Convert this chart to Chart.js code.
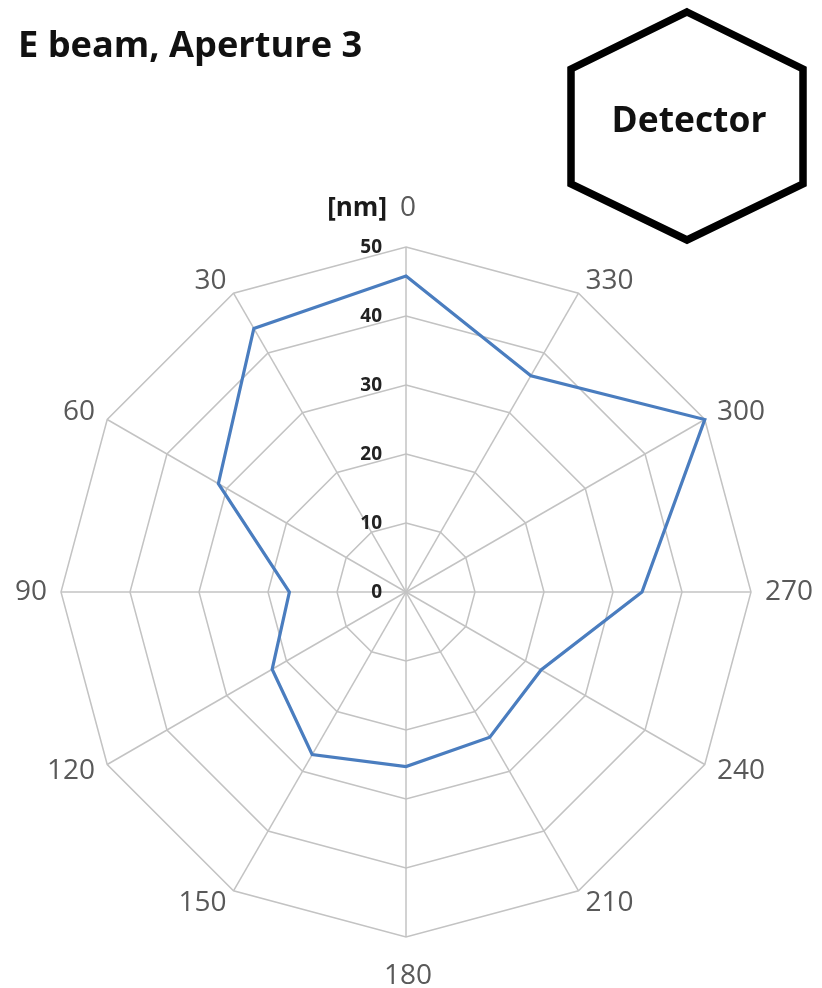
<!DOCTYPE html>
<html>
<head>
<meta charset="utf-8">
<script src="https://cdn.jsdelivr.net/npm/chart.js@4"></script>
<style>
  html, body { margin: 0; padding: 0; background: #ffffff; }
  #wrap { position: relative; width: 822px; height: 988px; }
</style>
</head>
<body>
<div id="wrap"><canvas id="c"></canvas></div>
<script>
// Angle categories (clockwise from top, as drawn)
const angleLabels = ["0", "330", "300", "270", "240", "210", "180", "150", "120", "90", "60", "30"];
// Deviation in nm
const beamValues = [45.8, 36.2, 50, 34.2, 22.6, 24.3, 25.3, 27.2, 22.4, 16.9, 31.4, 44.1];
// Radial tick values
const tickValues = [0, 10, 20, 30, 40, 50];
const chartTitle = "E beam, Aperture 3";
const unitLabel = "[nm]";
const detectorLabel = "Detector";

function fitFont(ctx, text, weight, family, targetWidth) {
  ctx.font = weight + " 100px " + family;
  const w = ctx.measureText(text).width;
  return 100 * targetWidth / w;
}

const overlay = {
  id: 'overlay',
  afterDraw(chart) {
    const ctx = chart.ctx;
    const s = chart.scales.r;
    const R = s.drawingArea;
    ctx.save();

    // point (angle) labels
    ctx.fillStyle = '#595959';
    ctx.font = '400 28px "Open Sans"';
    ctx.textBaseline = 'middle';
    chart.data.labels.forEach((lab, i) => {
      const p = s.getPointPosition(i, R + 14);
      const dx = p.x - s.xCenter;
      let yOff = 0;
      if (Math.abs(dx) < 1) {
        ctx.textAlign = 'center';
        yOff = (p.y < s.yCenter) ? -25 : 25;
      } else if (dx > 0) {
        ctx.textAlign = 'left';
      } else {
        ctx.textAlign = 'right';
      }
      ctx.fillText(lab, p.x + (Math.abs(dx) < 1 ? 2 : 0), p.y + yOff);
    });

    // radial tick labels
    ctx.fillStyle = '#222222';
    ctx.font = '700 19px "Open Sans"';
    ctx.textAlign = 'right';
    ctx.textBaseline = 'middle';
    tickValues.forEach(v => {
      const d = s.getDistanceFromCenterForValue(v);
      ctx.fillText(String(v), s.xCenter - 24, s.yCenter - d + 1);
    });

    // unit label next to "0"
    ctx.fillStyle = '#1a1a1a';
    ctx.font = '700 26px "Open Sans"';
    ctx.textAlign = 'right';
    ctx.fillText(unitLabel, 387, 209);

    // title
    const tSize = fitFont(ctx, chartTitle, '700', '"Open Sans"', 344);
    ctx.font = '700 ' + tSize.toFixed(1) + 'px "Open Sans"';
    ctx.textAlign = 'left';
    ctx.textBaseline = 'alphabetic';
    ctx.fillStyle = '#111111';
    ctx.fillText(chartTitle, 18, 57);

    // detector hexagon
    ctx.strokeStyle = '#000000';
    ctx.lineWidth = 7.5;
    ctx.lineJoin = 'miter';
    ctx.beginPath();
    ctx.moveTo(687, 12);
    ctx.lineTo(803, 69);
    ctx.lineTo(803, 184);
    ctx.lineTo(687, 240);
    ctx.lineTo(571, 184);
    ctx.lineTo(571, 69);
    ctx.closePath();
    ctx.stroke();

    const dSize = fitFont(ctx, detectorLabel, '700', '"Open Sans"', 155);
    ctx.font = '700 ' + dSize.toFixed(1) + 'px "Open Sans"';
    ctx.textAlign = 'center';
    ctx.textBaseline = 'middle';
    ctx.fillStyle = '#111111';
    ctx.fillText(detectorLabel, 689, 122);

    ctx.restore();
  }
};

new Chart(document.getElementById('c'), {
  type: 'radar',
  data: {
    labels: angleLabels,
    datasets: [{
      data: beamValues,
      borderColor: '#4a7dbf',
      borderWidth: 3.2,
      fill: false,
      pointRadius: 0,
      pointHoverRadius: 0,
      tension: 0
    }]
  },
  options: {
    responsive: true,
    maintainAspectRatio: false,
    animation: false,
    layout: { padding: { left: 61, right: 71, top: 247, bottom: 51 } },
    plugins: {
      legend: { display: false },
      tooltip: { enabled: false },
      title: { display: false }
    },
    elements: { line: { borderJoinStyle: 'miter' } },
    scales: {
      r: {
        min: 0,
        max: 50,
        beginAtZero: true,
        ticks: { display: false, stepSize: 10 },
        pointLabels: { display: false },
        grid: { circular: false, color: '#c3c3c3', lineWidth: 1.5 },
        angleLines: { display: true, color: '#c3c3c3', lineWidth: 1.5 }
      }
    }
  },
  plugins: [overlay]
});
</script>
</body>
</html>
